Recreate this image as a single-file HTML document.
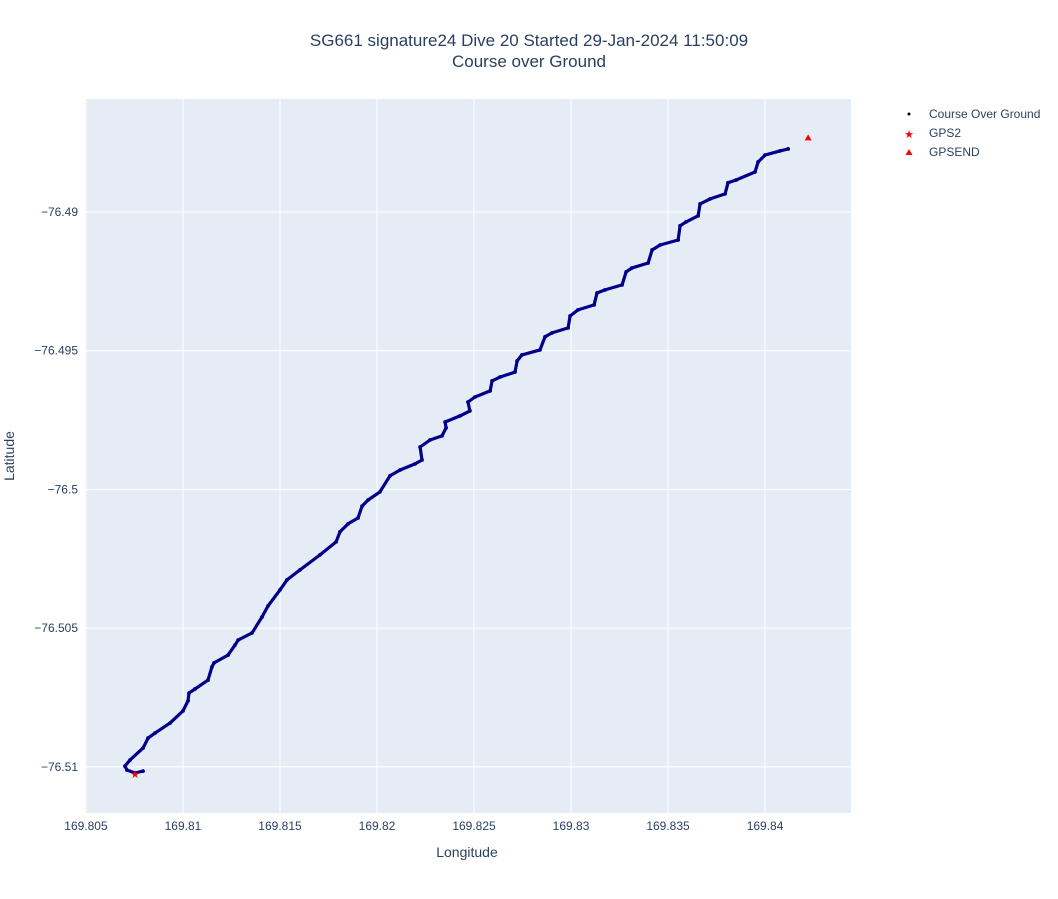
<!DOCTYPE html>
<html><head><meta charset="utf-8"><style>
body{margin:0;background:#fff;font-family:"Liberation Sans",sans-serif}
svg text{font-family:"Liberation Sans",sans-serif;fill:#2a3f5f}
</style></head><body>
<svg id="chart" width="1058" height="894" xmlns="http://www.w3.org/2000/svg">
<text x="529" y="46" text-anchor="middle" font-size="17">SG661 signature24 Dive 20 Started 29-Jan-2024 11:50:09</text>
<text x="529" y="67" text-anchor="middle" font-size="17">Course over Ground</text>
<rect x="85" y="99" width="766" height="714" fill="#e5ecf6"/>
<g id="grid"></g><g id="ticks"></g><g id="marks"></g>
<text x="467" y="857" text-anchor="middle" font-size="14">Longitude</text>
<text transform="translate(14,456) rotate(-90)" text-anchor="middle" font-size="14">Latitude</text>
<g>
<circle cx="909" cy="114" r="1.5" fill="#000"/>
<text x="929" y="118" font-size="12">Course Over Ground</text>
<text x="909" y="138" text-anchor="middle" font-size="11" style="fill:red">★</text>
<text x="929" y="137" font-size="12">GPS2</text>
<polygon points="909,149 912.5,155 905.5,155" fill="red"/>
<text x="929" y="156" font-size="12">GPSEND</text>
</g>
</svg>
<script>
const xTicks=[169.805,169.81,169.815,169.82,169.825,169.83,169.835,169.84];
const xTickLabels=["169.805","169.81","169.815","169.82","169.825","169.83","169.835","169.84"];
const yTicks=[-76.49,-76.495,-76.5,-76.505,-76.51];
const yTickLabels=["−76.49","−76.495","−76.5","−76.505","−76.51"];
const lon=[169.80794,169.80753,169.80711,169.80701,169.80727,169.80794,169.80820,169.80856,169.80933,169.81,169.81026,169.81031,169.81062,169.81129,169.81149,169.81160,169.81232,169.81268,169.81284,169.81356,169.81407,169.81438,169.815,169.81536,169.81603,169.81706,169.81789,169.81809,169.81851,169.81902,169.81923,169.81954,169.82015,169.82067,169.82119,169.82196,169.82232,169.82222,169.82273,169.82335,169.82356,169.82351,169.82428,169.82479,169.82469,169.82505,169.82583,169.82593,169.82634,169.82711,169.82722,169.82747,169.82840,169.82866,169.82902,169.82985,169.82995,169.83036,169.83119,169.83134,169.83175,169.83263,169.83284,169.83314,169.83397,169.83418,169.83459,169.83552,169.83562,169.83593,169.83655,169.83665,169.83717,169.83794,169.83809,169.83851,169.83948,169.83964,169.84,169.84077,169.84119];
const lat=[-76.51015,-76.51022,-76.51011,-76.50997,-76.50975,-76.50932,-76.50896,-76.50878,-76.50842,-76.50798,-76.50762,-76.50734,-76.50719,-76.50687,-76.50640,-76.50625,-76.50597,-76.50561,-76.50543,-76.50517,-76.50460,-76.50420,-76.50362,-76.50326,-76.50290,-76.50236,-76.50189,-76.50153,-76.50124,-76.50103,-76.50060,-76.50038,-76.50009,-76.49951,-76.49930,-76.49908,-76.49894,-76.49847,-76.49822,-76.49807,-76.49778,-76.49757,-76.49735,-76.49717,-76.49685,-76.49667,-76.49645,-76.49609,-76.49595,-76.49577,-76.49537,-76.49515,-76.49497,-76.49450,-76.49436,-76.49418,-76.49375,-76.49353,-76.49335,-76.49292,-76.49281,-76.49263,-76.49216,-76.49202,-76.49184,-76.49137,-76.49119,-76.49101,-76.49050,-76.49036,-76.49014,-76.48971,-76.48953,-76.48935,-76.48895,-76.48885,-76.48856,-76.48820,-76.48795,-76.48780,-76.48773];
const gps2Lon=[169.80753], gps2Lat=[-76.51025];
const gpsendLon=[169.84222], gpsendLat=[-76.48733];
const X0=85,X1=851,Y0=99,Y1=813,LON0=169.80495,LON1=169.84443,LAT0=-76.51166,LAT1=-76.48593;
const sx=v=>X0+(v-LON0)/(LON1-LON0)*(X1-X0);
const sy=v=>Y1-(v-LAT0)/(LAT1-LAT0)*(Y1-Y0);
const NS="http://www.w3.org/2000/svg";
function mk(tag,parent,attrs){const e=document.createElementNS(NS,tag);for(const k in attrs)e.setAttribute(k,attrs[k]);parent.appendChild(e);return e;}
const grid=document.getElementById('grid'),ticks=document.getElementById('ticks'),marks=document.getElementById('marks');
xTicks.forEach((t,i)=>{const x=sx(t);
const l=mk('line',grid,{x1:x,x2:x,y1:Y0,y2:Y1,stroke:'#fff','stroke-width':1});


const tx=mk('text',ticks,{x:x,y:Y1+17,'text-anchor':'middle','font-size':12});


tx.textContent=xTickLabels[i];});
yTicks.forEach((t,i)=>{const y=sy(t);
const l=mk('line',grid,{x1:X0,x2:X1,y1:y,y2:y,stroke:'#fff','stroke-width':1});


const tx=mk('text',ticks,{x:X0-7,y:y+4,'text-anchor':'end','font-size':12});


tx.textContent=yTickLabels[i];});
const pts=lon.map((v,i)=>sx(v).toFixed(1)+','+sy(lat[i]).toFixed(1)).join(' ');
const pl=mk('polyline',marks,{points:pts,fill:'none',stroke:'#00008b','stroke-width':3.2,'stroke-linejoin':'round','stroke-linecap':'round'});


lon.forEach((v,i)=>{const c=mk('circle',marks,{cx:sx(v),cy:sy(lat[i]),r:1.9,fill:'#00008b'});

});
gps2Lon.forEach((v,i)=>{const t=mk('text',marks,{x:sx(v),y:sy(gps2Lat[i])+4,'text-anchor':'middle','font-size':11,style:'fill:red'});


t.textContent='★';});
gpsendLon.forEach((v,i)=>{const x=sx(v),y=sy(gpsendLat[i]);
const p=mk('polygon',marks,{points:`${x},${y-3.5} ${x+3.5},${y+2.5} ${x-3.5},${y+2.5}`,fill:'red'});

});
</script>
</body></html>
